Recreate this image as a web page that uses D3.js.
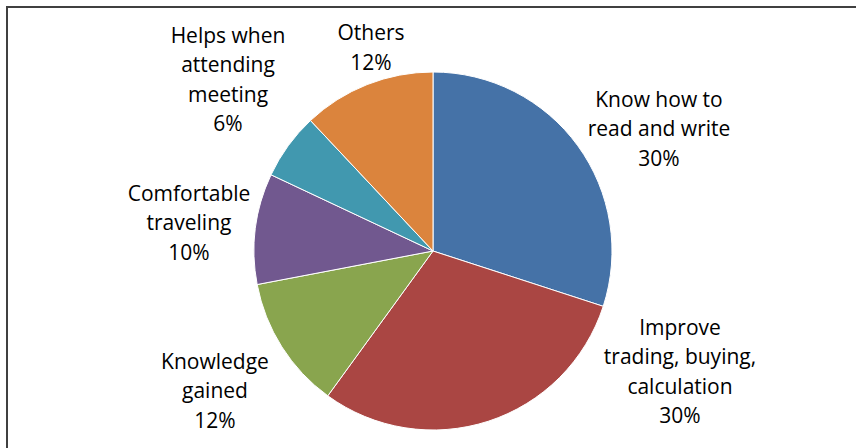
<!DOCTYPE html>
<html>
<head>
<meta charset="utf-8">
<script src="https://cdn.jsdelivr.net/npm/d3@7"></script>
<style>
  html, body { margin: 0; padding: 0; background: #fff; }
  svg { display: block; }
</style>
</head>
<body>
<svg id="chart" width="856" height="448"></svg>
<script>
// Reasons for learning, share of responses (%)
const categories = [
  "Know how to read and write",
  "Improve trading, buying, calculation",
  "Knowledge gained",
  "Comfortable traveling",
  "Helps when attending meeting",
  "Others"
];
const values = [30, 30, 12, 10, 6, 12];
// Label text broken into lines as shown beside each slice
const labelLines = [
  ["Know how to", "read and write"],
  ["Improve", "trading, buying,", "calculation"],
  ["Knowledge", "gained"],
  ["Comfortable", "traveling"],
  ["Helps when", "attending", "meeting"],
  ["Others"]
];
const colors = ["#4572A7", "#AA4643", "#89A54E", "#71588F", "#4198AF", "#DB843D"];

// Layout
const W = 856, H = 448;
const cx = 433, cy = 251, R = 179;
const fontSize = 21, lineH = 29.5;
// Centre of each label block
const labelCenters = [
  [659, 128], [680, 371], [215, 390], [189, 222], [228, 79], [371, 47]
];

const svg = d3.select("#chart");

// chart frame
svg.append("rect")
  .attr("x", 7).attr("y", 7)
  .attr("width", W + 10).attr("height", H + 10)
  .attr("fill", "none").attr("stroke", "#404040").attr("stroke-width", 2);

const pie = d3.pie().sort(null).value(d => d)
  .startAngle(0).endAngle(2 * Math.PI);
const arc = d3.arc().innerRadius(0).outerRadius(R);

const g = svg.append("g").attr("transform", `translate(${cx},${cy})`);
g.selectAll("path")
  .data(pie(values))
  .join("path")
  .attr("d", arc)
  .attr("fill", (d, i) => colors[i])
  .attr("stroke", "#fff")
  .attr("stroke-width", 1);

const labels = svg.append("g")
  .attr("font-family", "'Open Sans', 'Liberation Sans', sans-serif")
  .attr("font-size", fontSize)
  .attr("fill", "#000")
  .attr("text-anchor", "middle");

categories.forEach((c, i) => {
  const lines = labelLines[i].concat([values[i] + "%"]);
  const [lx, ly] = labelCenters[i];
  const top = ly - (lines.length - 1) * lineH / 2;
  const t = labels.append("text")
    .attr("x", lx).attr("y", top)
    .attr("dominant-baseline", "central");
  lines.forEach((s, k) => {
    t.append("tspan")
      .attr("x", lx)
      .attr("y", top + k * lineH)
      .text(s);
  });
});
</script>
</body>
</html>
